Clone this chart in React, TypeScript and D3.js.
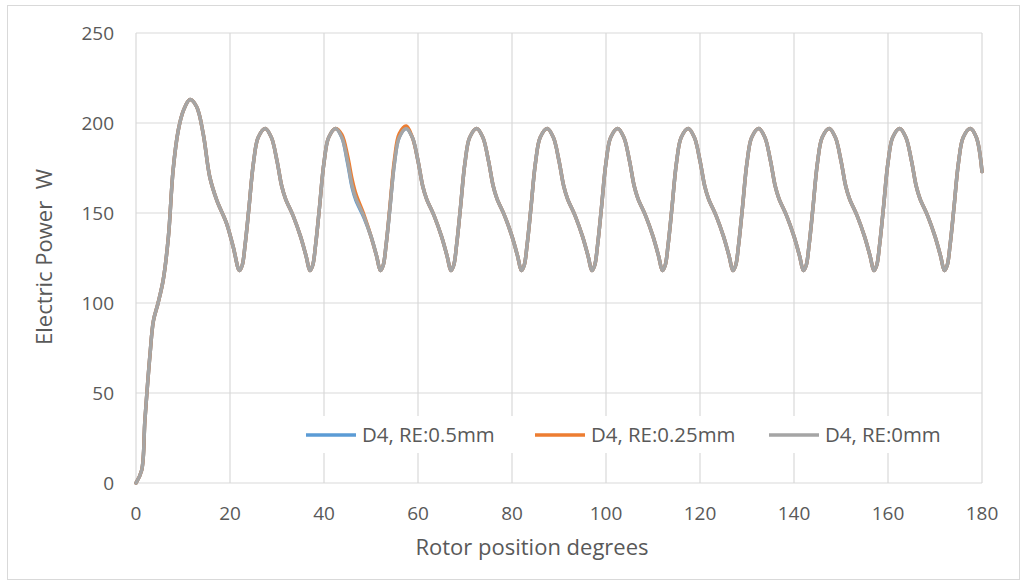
import React from 'react';
import * as d3 from 'd3';

const W = 1025;
const H = 586;

const xTickValues = [0, 20, 40, 60, 80, 100, 120, 140, 160, 180];
const yTickValues = [0, 50, 100, 150, 200, 250];

const seriesNames = ['D4, RE:0.5mm', 'D4, RE:0.25mm', 'D4, RE:0mm'];
const seriesColors = ['#5B9BD5', '#ED7D31', '#A5A5A5'];

// rotor position (degrees)
const angles = [
  0, 1.2, 1.9, 3, 3.7, 4.7, 5.8, 6.9, 7.9, 9, 10.1, 11.5, 12.9, 14.3, 15.7, 17.2, 19.3, 20.7,
  22, 22.6, 23.2, 24, 25, 26, 27.5, 28.8, 30, 31, 31.8, 33.5, 35, 36.2,
  37, 37.6, 38.2, 39, 40, 41, 42.5, 43.8, 45, 46, 46.8, 48.5, 50, 51.2,
  52, 52.6, 53.2, 54, 55, 56, 57.5, 58.8, 60, 61, 61.8, 63.5, 65, 66.2,
  67, 67.6, 68.2, 69, 70, 71, 72.5, 73.8, 75, 76, 76.8, 78.5, 80, 81.2,
  82, 82.6, 83.2, 84, 85, 86, 87.5, 88.8, 90, 91, 91.8, 93.5, 95, 96.2,
  97, 97.6, 98.2, 99, 100, 101, 102.5, 103.8, 105, 106, 106.8, 108.5, 110, 111.2,
  112, 112.6, 113.2, 114, 115, 116, 117.5, 118.8, 120, 121, 121.8, 123.5, 125, 126.2,
  127, 127.6, 128.2, 129, 130, 131, 132.5, 133.8, 135, 136, 136.8, 138.5, 140, 141.2,
  142, 142.6, 143.2, 144, 145, 146, 147.5, 148.8, 150, 151, 151.8, 153.5, 155, 156.2,
  157, 157.6, 158.2, 159, 160, 161, 162.5, 163.8, 165, 166, 166.8, 168.5, 170, 171.2,
  172, 172.6, 173.2, 174, 175, 176, 177.5, 178.8, 180,
];

// D4, RE:0.5mm
const powerRE05 = [
  0, 7, 35, 72, 90, 100, 113, 137, 174, 196, 207, 213, 209, 194, 170, 157, 144, 131,
  118, 121, 132, 152, 178, 192, 197, 192, 179, 165, 158, 148, 137, 126,
  118, 121, 132, 152, 178, 192, 197, 192, 178, 164, 157, 147.5, 137, 126,
  118, 121, 132, 152, 178, 192, 197, 192, 179, 165, 158, 148, 137, 126,
  118, 121, 132, 152, 178, 192, 197, 192, 179, 165, 158, 148, 137, 126,
  118, 121, 132, 152, 178, 192, 197, 192, 179, 165, 158, 148, 137, 126,
  118, 121, 132, 152, 178, 192, 197, 192, 179, 165, 158, 148, 137, 126,
  118, 121, 132, 152, 178, 192, 197, 192, 179, 165, 158, 148, 137, 126,
  118, 121, 132, 152, 178, 192, 197, 192, 179, 165, 158, 148, 137, 126,
  118, 121, 132, 152, 178, 192, 197, 192, 179, 165, 158, 148, 137, 126,
  118, 121, 132, 152, 178, 192, 197, 192, 179, 165, 158, 148, 137, 126,
  118, 121, 132, 152, 178, 192, 197, 192, 173,
];

// D4, RE:0.25mm
const powerRE025 = [
  0, 7, 35, 72, 90, 100, 113, 137, 174, 196, 207, 213, 209, 194, 170, 157, 144, 131,
  118, 121, 132, 152, 178, 192, 197, 192, 179, 165, 158, 148, 137, 126,
  118, 121, 132, 152, 178, 192, 197, 193.5, 182, 168.5, 160.5, 149, 137, 126,
  118, 121, 132, 153, 180, 194, 198.3, 192, 179, 165, 158, 148, 137, 126,
  118, 121, 132, 152, 178, 192, 197, 192, 179, 165, 158, 148, 137, 126,
  118, 121, 132, 152, 178, 192, 197, 192, 179, 165, 158, 148, 137, 126,
  118, 121, 132, 152, 178, 192, 197, 192, 179, 165, 158, 148, 137, 126,
  118, 121, 132, 152, 178, 192, 197, 192, 179, 165, 158, 148, 137, 126,
  118, 121, 132, 152, 178, 192, 197, 192, 179, 165, 158, 148, 137, 126,
  118, 121, 132, 152, 178, 192, 197, 192, 179, 165, 158, 148, 137, 126,
  118, 121, 132, 152, 178, 192, 197, 192, 179, 165, 158, 148, 137, 126,
  118, 121, 132, 152, 178, 192, 197, 192, 173,
];

// D4, RE:0mm
const powerRE0 = [
  0, 7, 35, 72, 90, 100, 113, 137, 174, 196, 207, 213, 209, 194, 170, 157, 144, 131,
  118, 121, 132, 152, 178, 192, 197, 192, 179, 165, 158, 148, 137, 126,
  118, 121, 132, 152, 178, 192, 197, 192, 179, 165, 158, 148, 137, 126,
  118, 121, 132, 152, 178, 192, 197, 192, 179, 165, 158, 148, 137, 126,
  118, 121, 132, 152, 178, 192, 197, 192, 179, 165, 158, 148, 137, 126,
  118, 121, 132, 152, 178, 192, 197, 192, 179, 165, 158, 148, 137, 126,
  118, 121, 132, 152, 178, 192, 197, 192, 179, 165, 158, 148, 137, 126,
  118, 121, 132, 152, 178, 192, 197, 192, 179, 165, 158, 148, 137, 126,
  118, 121, 132, 152, 178, 192, 197, 192, 179, 165, 158, 148, 137, 126,
  118, 121, 132, 152, 178, 192, 197, 192, 179, 165, 158, 148, 137, 126,
  118, 121, 132, 152, 178, 192, 197, 192, 179, 165, 158, 148, 137, 126,
  118, 121, 132, 152, 178, 192, 197, 192, 173,
];

const allSeries = [powerRE05, powerRE025, powerRE0];

const PLOT = { left: 136, right: 982, top: 33, bottom: 483 };
const FONT = '"Open Sans", sans-serif';
const TXT = '#595959';

export default function App() {
  const x = d3.scaleLinear().domain([0, 180]).range([PLOT.left, PLOT.right]);
  const y = d3.scaleLinear().domain([0, 250]).range([PLOT.bottom, PLOT.top]);

  const line = d3
    .line<number>()
    .x((_, i) => x(angles[i]))
    .y((d) => y(d))
    .curve(d3.curveCatmullRom.alpha(0.5));

  const legendX = [306, 535, 769];
  const legendY = 435;

  return (
    <svg
      width={W}
      height={H}
      style={{ position: 'absolute', left: 0, top: 0, background: '#fff' }}
    >
      <rect x={0} y={0} width={W} height={H} fill="#fff" />
      <rect x={7.5} y={5.5} width={1012} height={574} fill="#fff" stroke="#D9D9D9" strokeWidth={1} />

      {/* gridlines */}
      {yTickValues.map((v) => (
        <line key={'gy' + v} x1={PLOT.left} x2={PLOT.right} y1={y(v)} y2={y(v)} stroke="#D9D9D9" strokeWidth={1.2} />
      ))}
      {xTickValues.map((v) => (
        <line key={'gx' + v} x1={x(v)} x2={x(v)} y1={PLOT.top} y2={PLOT.bottom} stroke="#D9D9D9" strokeWidth={1.2} />
      ))}

      {/* legend background */}
      <rect x={298} y={416} width={648} height={37} fill="#fff" />

      {/* series */}
      {allSeries.map((s, i) => (
        <path
          key={'s' + i}
          d={line(s) || ''}
          fill="none"
          stroke={seriesColors[i]}
          strokeWidth={3.5}
          strokeLinejoin="round"
          strokeLinecap="round"
        />
      ))}

      {/* y tick labels */}
      {yTickValues.map((v) => (
        <text key={'ty' + v} x={114} y={y(v)} dy="0.35em" textAnchor="end" fontFamily={FONT} fontSize={19} fill={TXT}>
          {v}
        </text>
      ))}
      {/* x tick labels */}
      {xTickValues.map((v) => (
        <text key={'tx' + v} x={x(v)} y={513} dy="0.35em" textAnchor="middle" fontFamily={FONT} fontSize={19} fill={TXT}>
          {v}
        </text>
      ))}

      {/* axis titles */}
      <text x={532} y={547} dy="0.35em" textAnchor="middle" fontFamily={FONT} fontSize={22} fill={TXT}>
        Rotor position degrees
      </text>
      <text
        transform={`translate(44, 257) rotate(-90)`}
        dy="0.35em"
        textAnchor="middle"
        fontFamily={FONT}
        fontSize={22}
        fill={TXT}
        style={{ whiteSpace: 'pre' }}
      >
        {'Electric Power  W'}
      </text>

      {/* legend */}
      {seriesNames.map((name, i) => (
        <g key={'lg' + i}>
          <line x1={legendX[i]} x2={legendX[i] + 50} y1={legendY} y2={legendY} stroke={seriesColors[i]} strokeWidth={3.5} />
          <text x={legendX[i] + 56} y={legendY} dy="0.35em" fontFamily={FONT} fontSize={20.4} fill={TXT}>
            {name}
          </text>
        </g>
      ))}
    </svg>
  );
}
